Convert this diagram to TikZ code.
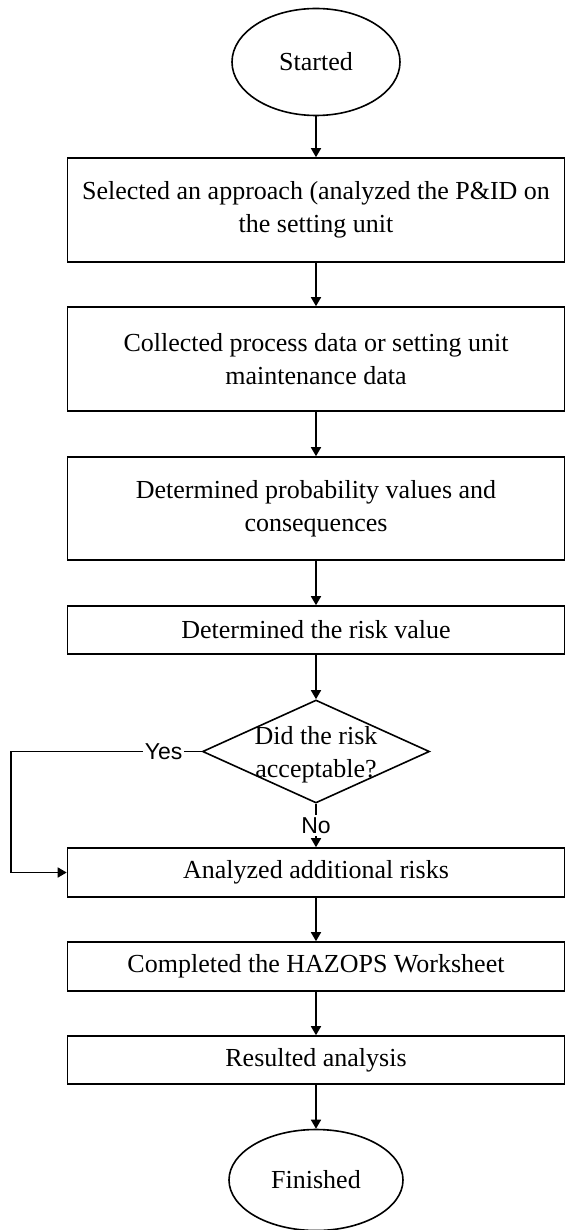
\documentclass[tikz,border=0pt]{standalone}
\usepackage{fontspec}
\setmainfont{Liberation Serif}
\setsansfont{Liberation Sans}
\usetikzlibrary{shapes.geometric,% ellipse and diamond nodes
arrows.meta}
\tikzset{every node/.style={font=\fontsize{13}{16.5}\selectfont}}

\begin{document}
\begin{tikzpicture}[
  x=0.5pt, y=-0.5pt, line width=0.8pt,
  stepbox/.style={draw, rectangle, align=center, minimum width=248.5pt, inner sep=2pt},
  terminal/.style={draw, ellipse, inner sep=0pt},
  decision/.style={draw, diamond, inner sep=0pt, minimum width=113.5pt, minimum height=51.5pt},
  answer/.style={font=\sffamily\fontsize{11.5}{13}\selectfont, fill=white, inner sep=1pt},
  flow/.style={-{Triangle[width=5pt,length=4.5pt]}}
% coordinates are given in pixels of the 568 x 1230 layout
]
\useasboundingbox (0,0) rectangle (568,1230);

\path (316,62) node[terminal, minimum width=84pt, minimum height=53.5pt] (start) {Started};
\path (316,210) node[stepbox, minimum height=52pt] (approach)
  {Selected an approach (analyzed the P\&ID on\\the setting unit};
\path (316,359) node[stepbox, minimum height=52pt] (collect)
  {Collected process data or setting unit\\maintenance data};
\path (316,508.5) node[stepbox, minimum height=51.5pt] (prob)
  {Determined probability values and\\consequences};
\path (316,630) node[stepbox, minimum height=24pt] (riskval) {Determined the risk value};

\path (316,751.5) node[decision] (accept) {};
\path (accept) ++ (0,3) node[align=center] (accepttext) {Did the risk\\acceptable?};

\path (316,872.5) node[stepbox, minimum height=24.5pt] (extra) {Analyzed additional risks};
\path (316,966.5) node[stepbox, minimum height=24.5pt] (sheet) {Completed the HAZOPS Worksheet};
\path (316,1060) node[stepbox, minimum height=24pt] (result) {Resulted analysis};
\path (316,1180) node[terminal, minimum width=87pt, minimum height=50.5pt] (finish) {Finished};

\coordinate (yesbend) at (11,751.5);

\draw[flow] (start) -- (approach);
\draw[flow] (approach) -- (collect);
\draw[flow] (collect) -- (prob);
\draw[flow] (prob) -- (riskval);
\draw[flow] (riskval) -- (accept);
\draw[flow] (accept.south) -- node[answer] {No} (extra.north);
\draw[flow] (accept.west) -- node[answer, pos=0.2] {Yes} (yesbend) |- (extra.west);
\draw[flow] (extra) -- (sheet);
\draw[flow] (sheet) -- (result);
\draw[flow] (result) -- (finish);
\end{tikzpicture}
\end{document}
